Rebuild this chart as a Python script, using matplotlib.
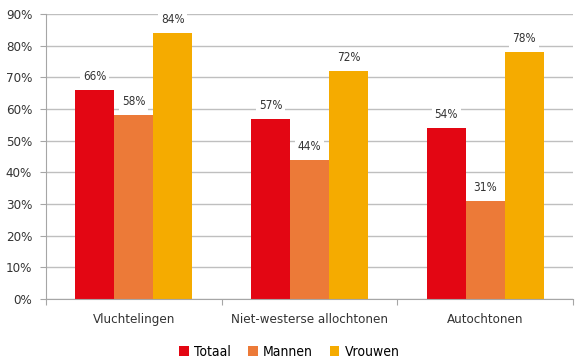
import matplotlib.pyplot as plt
import numpy as np

groepen = ['Vluchtelingen', 'Niet-westerse allochtonen', 'Autochtonen']
reeksen = ['Totaal', 'Mannen', 'Vrouwen']
totaal = [66, 57, 54]
mannen = [58, 44, 31]
vrouwen = [84, 72, 78]
kleuren = ['#E30613', '#EC7A38', '#F5AB00']

plt.rcParams['font.family'] = ['DejaVu Sans']
plt.rcParams['font.stretch'] = 'condensed'

fig = plt.figure(figsize=(5.79, 3.62), dpi=100)
ax = fig.add_axes([0.0795, 0.174, 0.910, 0.787])

x = np.arange(len(groepen))
w = 0.222
for i, (naam, vals) in enumerate(zip(reeksen, [totaal, mannen, vrouwen])):
    pos = x + (i - 1) * w
    ax.bar(pos, vals, width=w, color=kleuren[i], label=naam, zorder=2)
    for px, v in zip(pos, vals):
        ax.annotate(f'{v}%', (px, v), xytext=(0, 5), textcoords='offset points',
                    ha='center', va='bottom', fontsize=8.5, color='#333333', zorder=3,
                    bbox=dict(facecolor='white', edgecolor='none', pad=2))

ax.set_xlim(-0.5, 2.5)
ax.set_ylim(0, 90)
ax.set_yticks(range(0, 91, 10))
ax.set_yticklabels([f'{t}%' for t in range(0, 91, 10)], fontsize=9.5, color='#333333')
ax.yaxis.grid(True, color='#BFBFBF', linewidth=1, zorder=0)
ax.set_axisbelow(True)

ax.set_xticks([-0.5, 0.5, 1.5, 2.5])
ax.set_xticklabels([])
ax.set_xticks(x, minor=True)
ax.set_xticklabels(groepen, minor=True, fontsize=9.5, color='#333333')
ax.tick_params(axis='x', which='minor', length=0, pad=10)
ax.tick_params(axis='x', which='major', length=4, color='#A6A6A6')
ax.tick_params(axis='y', length=4, color='#A6A6A6', pad=6)

for s in ['top', 'right']:
    ax.spines[s].set_visible(False)
ax.spines['left'].set_color('#A6A6A6')
ax.spines['bottom'].set_color('#A6A6A6')

fig.legend(loc='center', bbox_to_anchor=(0.5, 0.028), ncol=3, frameon=False,
           fontsize=10, handlelength=0.7, handleheight=0.7, handletextpad=0.4,
           columnspacing=1.2, borderpad=0)

fig.savefig('out.png', dpi=100)
